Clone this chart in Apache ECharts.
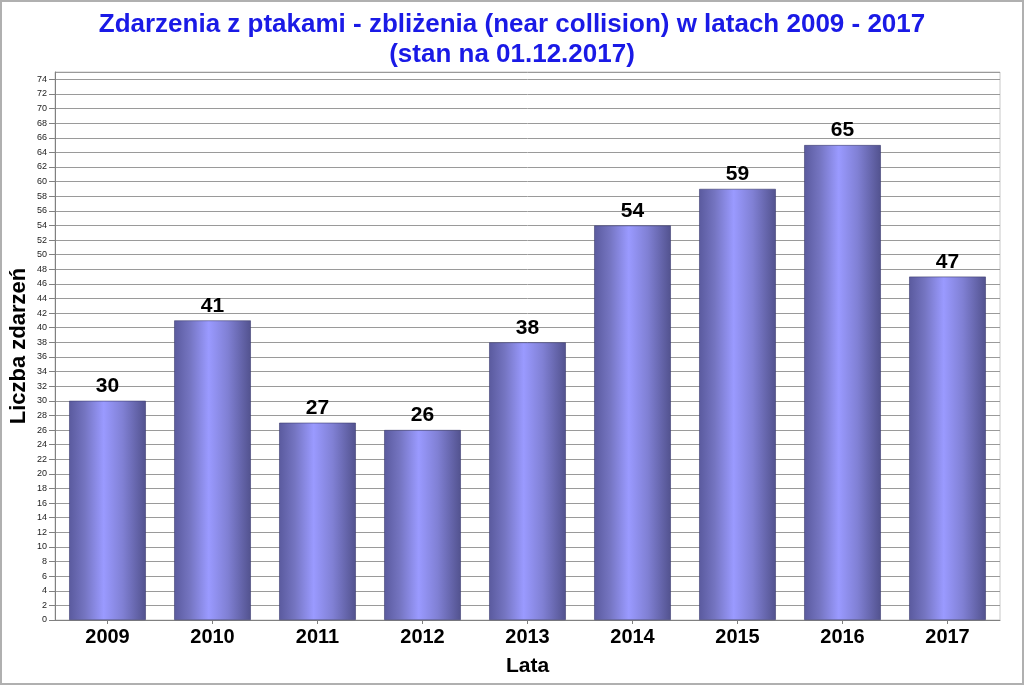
<!DOCTYPE html>
<html><head><meta charset="utf-8">
<script src="https://cdn.jsdelivr.net/npm/echarts@6/dist/echarts.min.js"></script>
<style>html,body{margin:0;padding:0;background:#fff}#c{width:1024px;height:685px;box-sizing:border-box;border:2px solid #b0b0b0}</style>
</head><body><div id="c"></div>
<script>
const categories = ['2009','2010','2011','2012','2013','2014','2015','2016','2017'];
const values = [30, 41, 27, 26, 38, 54, 59, 65, 47];
const titleText = 'Zdarzenia z ptakami - zbliżenia (near collision) w latach 2009 - 2017\n(stan na 01.12.2017)';
const yName = 'Liczba zdarzeń';
const xName = 'Lata';

const chart = echarts.init(document.getElementById('c'));
const grad = new echarts.graphic.LinearGradient(0,0,1,0,[
  {offset:0, color:'#5a5a9e'},
  {offset:0.2, color:'#7474c0'},
  {offset:0.45, color:'#9a9aff'},
  {offset:0.7, color:'#8080d4'},
  {offset:1, color:'#52528e'}
]);
chart.setOption({
  animation:false,
  title:{text:titleText,left:'center',top:3,textStyle:{fontFamily:'Liberation Sans',fontSize:26,fontWeight:'bold',color:'#1a1ae6',lineHeight:30}},
  grid:{left:53,right:22,top:70,bottom:63,outerBoundsMode:'none',containLabel:false,show:true,borderColor:'#c8c8c8',borderWidth:1},
  xAxis:{type:'category',data:categories,
    name:xName,nameLocation:'middle',nameGap:36,nameMoveOverlap:false,
    nameTextStyle:{fontFamily:'Liberation Sans',fontSize:21,fontWeight:'bold',color:'#000'},
    axisLine:{lineStyle:{color:'#808080'}},
    axisTick:{show:true,alignWithLabel:true,length:4,lineStyle:{color:'#808080'}},
    axisLabel:{fontFamily:'Liberation Sans',fontSize:20,fontWeight:'bold',color:'#000',margin:7}},
  yAxis:{type:'value',min:0,max:75,interval:2,
    name:yName,nameLocation:'middle',nameGap:25,nameRotate:90,nameMoveOverlap:false,
    nameTextStyle:{fontFamily:'Liberation Sans',fontSize:22,fontWeight:'bold',color:'#000'},
    axisLine:{show:true,lineStyle:{color:'#808080'}},
    axisTick:{show:true,length:6,lineStyle:{color:'#808080'}},
    axisLabel:{fontFamily:'Liberation Sans',fontSize:9,color:'#222',margin:8,showMaxLabel:false},
    splitLine:{lineStyle:{color:'#9a9a9a'}}},
  series:[{type:'bar',data:values,barWidth:'73%',
    itemStyle:{color:grad,borderColor:'#3c3c70',borderWidth:0.6},
    label:{show:true,position:'top',distance:4,fontFamily:'Liberation Sans',fontSize:21,fontWeight:'bold',color:'#000'}}]
});
</script></body></html>
